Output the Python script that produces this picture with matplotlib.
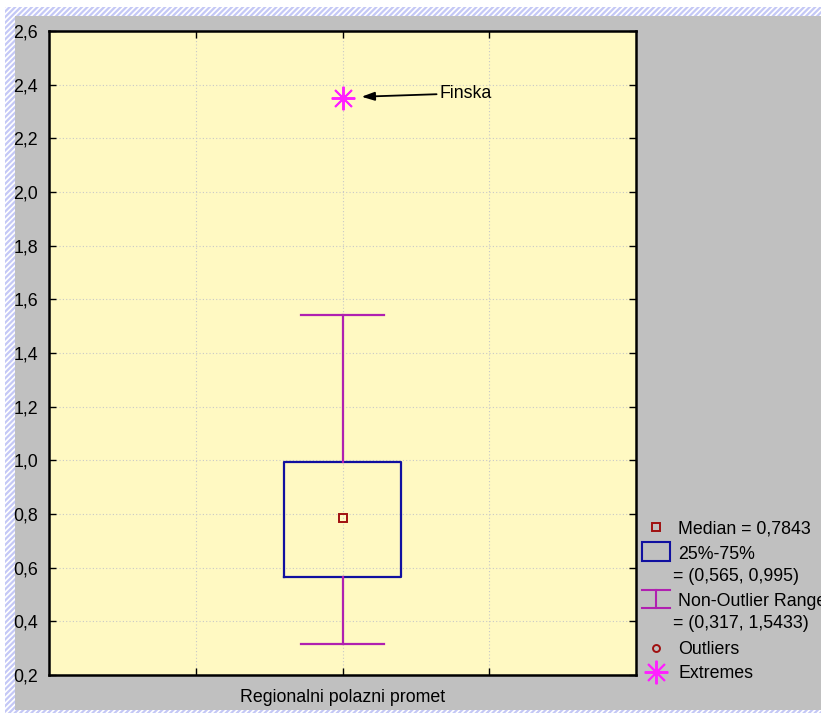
import matplotlib.pyplot as plt
from matplotlib.patches import Rectangle
from matplotlib.lines import Line2D

plt.rcParams['font.family'] = ['Liberation Sans', 'DejaVu Sans']
plt.rcParams['hatch.linewidth'] = 1.6

# Box plot statistics
variable = 'Regionalni polazni promet'
median = 0.7843
q1, q3 = 0.565, 0.995
whisker_lo, whisker_hi = 0.317, 1.5433
extremes = [2.35]
extreme_names = ['Finska']
y_ticks = [0.2, 0.4, 0.6, 0.8, 1.0, 1.2, 1.4, 1.6, 1.8, 2.0, 2.2, 2.4, 2.6]

yellow = '#fff9c2'
grey = '#c0c0c0'
box_col = '#1010a0'
whisk_col = '#b020b0'
med_col = '#a01010'
ext_col = '#ff20ff'
fs = 12.8

W, H = 821, 713
fig = plt.figure(figsize=(W / 100, H / 100), dpi=100)
fig.patch.set_facecolor('white')


def fx(x):
    return x / W


def fy(y):
    return 1 - y / H


# hatched frame round the figure, then the grey panel
fig.patches.append(Rectangle((fx(5), 0), 1, fy(7), transform=fig.transFigure, facecolor='white',
                             edgecolor='#c4c8f6', hatch='//////', linewidth=0, zorder=-10))
fig.patches.append(Rectangle((fx(15), fy(710)), 1, (710 - 16) / H, transform=fig.transFigure,
                             facecolor=grey, edgecolor='none', zorder=-9))

ax = fig.add_axes([fx(49), fy(675), 587 / W, (675 - 31) / H])
ax.set_facecolor(yellow)

stats = [dict(med=median, q1=q1, q3=q3, whislo=whisker_lo, whishi=whisker_hi,
              mean=median, fliers=extremes, label=variable)]
ax.bxp(stats, positions=[2], widths=0.8, capwidths=0.56, showmeans=True, patch_artist=False,
       boxprops=dict(color=box_col, linewidth=1.6),
       whiskerprops=dict(color=whisk_col, linewidth=1.6),
       capprops=dict(color=whisk_col, linewidth=1.6),
       medianprops=dict(linewidth=0, alpha=0),
       meanprops=dict(marker='s', markerfacecolor='none', markeredgecolor=med_col,
                      markersize=6, markeredgewidth=1.4),
       flierprops=dict(marker=(8, 2, 0), markeredgecolor=ext_col, markersize=17,
                       markeredgewidth=1.4, linestyle='none'))

for name, val in zip(extreme_names, extremes):
    ax.annotate(name, xy=(2.13, val + 0.005), xytext=(2.66, val + 0.018),
                fontsize=fs, va='center', ha='left',
                arrowprops=dict(arrowstyle='-|>,head_length=0.6,head_width=0.2',
                                color='black', lw=1.3, shrinkA=0, shrinkB=0))

ax.set_xlim(0, 4)
ax.set_ylim(0.2, 2.6)
ax.set_yticks(y_ticks)
ax.set_yticklabels([f'{v:.1f}'.replace('.', ',') for v in y_ticks], fontsize=fs)
ax.set_xticks([1, 2, 3])
ax.set_xticklabels(['', variable, ''], fontsize=fs)
ax.tick_params(axis='y', direction='in', length=5, width=1, right=True, pad=8)
ax.tick_params(axis='x', direction='in', length=5, width=1, top=True, pad=10)
ax.grid(True, color='#c8c8c8', linestyle=(0, (1, 2)), linewidth=0.8)
ax.set_axisbelow(True)
for s in ax.spines.values():
    s.set_linewidth(1.8)

# legend, drawn by hand in figure pixels
tf = fig.transFigure
fig.add_artist(Line2D([fx(656)], [fy(527)], transform=tf, linestyle='none', marker='s',
                      markerfacecolor='none', markeredgecolor=med_col, markersize=6,
                      markeredgewidth=1.4))
fig.add_artist(Rectangle((fx(642), fy(561)), 28 / W, 19 / H, transform=tf,
                         facecolor='none', edgecolor=box_col, linewidth=1.5))
fig.add_artist(Line2D([fx(642), fx(670)], [fy(590)] * 2, transform=tf, color=whisk_col, lw=1.5))
fig.add_artist(Line2D([fx(642), fx(670)], [fy(608)] * 2, transform=tf, color=whisk_col, lw=1.5))
fig.add_artist(Line2D([fx(656), fx(656)], [fy(590), fy(608)], transform=tf, color=whisk_col, lw=1.5))
fig.add_artist(Line2D([fx(656)], [fy(648)], transform=tf, linestyle='none', marker='o',
                      markerfacecolor='none', markeredgecolor=med_col, markersize=5,
                      markeredgewidth=1.4))
fig.add_artist(Line2D([fx(656)], [fy(672)], transform=tf, linestyle='none', marker=(8, 2, 0),
                      markeredgecolor=ext_col, markersize=17, markeredgewidth=1.4))

legend_rows = [
    (678, 534, 'Median = 0,7843'),
    (678, 559, '25%-75%'),
    (673, 581, f'= ({q1:g}, {q3:g})'.replace('.', ',')),
    (678, 606, 'Non-Outlier Range'),
    (673, 628, f'= ({whisker_lo:g}, {whisker_hi:g})'.replace('.', ',')),
    (678, 654, 'Outliers'),
    (678, 678, 'Extremes'),
]
for x, y, txt in legend_rows:
    fig.text(fx(x), fy(y), txt, fontsize=fs, ha='left', va='baseline')

fig.savefig('out.png', dpi=100, facecolor=fig.get_facecolor())
